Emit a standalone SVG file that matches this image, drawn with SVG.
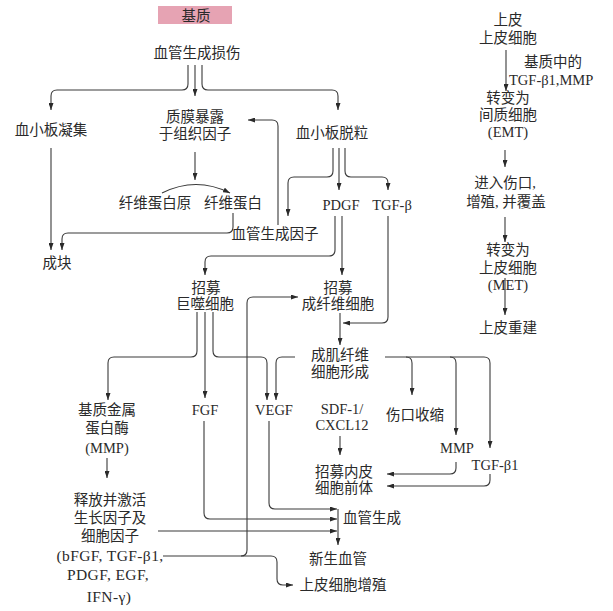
<svg xmlns="http://www.w3.org/2000/svg" width="613" height="611" viewBox="0 0 613 611">
<defs>
<style>
text{font-family:"Liberation Serif","Noto Sans CJK SC",serif;font-size:14.5px;fill:#2a2a2a;text-anchor:middle}
text.w{font-size:15.5px;letter-spacing:0.4px}
.c path{fill:none;stroke:#3a3a3a;stroke-width:1.1}
.c path.a{marker-end:url(#ah)}
</style>
<marker id="ah" viewBox="0 0 7 5" refX="7" refY="2.5" markerWidth="7" markerHeight="5" orient="auto" markerUnits="userSpaceOnUse"><path d="M0,0 L7,2.5 L0,5 z" fill="#2a2a2a"/></marker>
</defs>
<rect width="613" height="611" fill="#ffffff"/>
<g id="n-jizhi"><rect x="158" y="6" width="74" height="18" fill="#e6a3b3"/><text x="196" y="21">基质</text></g>
<g id="n-injury"><text x="197" y="58">血管生成损伤</text></g>
<g id="n-agg"><text x="51" y="135">血小板凝集</text></g>
<g id="n-tf"><text x="195" y="122">质膜暴露</text><text x="195" y="139">于组织因子</text></g>
<g id="n-degran"><text x="332" y="138">血小板脱粒</text></g>
<g id="n-fbg"><text x="155" y="208">纤维蛋白原</text></g>
<g id="n-fb"><text x="233" y="208">纤维蛋白</text></g>
<g id="n-angf"><text x="275" y="239">血管生成因子</text></g>
<g id="n-pdgf"><text x="341" y="210">PDGF</text></g>
<g id="n-tgfb"><text x="392" y="210">TGF-β</text></g>
<g id="n-clot"><text x="57" y="268">成块</text></g>
<g id="n-mac"><text x="206" y="293">招募</text><text x="205" y="309">巨噬细胞</text></g>
<g id="n-fibro"><text x="338" y="293">招募</text><text x="338" y="309">成纤维细胞</text></g>
<g id="n-myo"><text x="340" y="360">成肌纤维</text><text x="340" y="377">细胞形成</text></g>
<g id="n-mmp1"><text x="107" y="415">基质金属</text><text x="107" y="433">蛋白酶</text><text x="107" y="453">(MMP)</text></g>
<g id="n-fgf"><text x="205" y="415">FGF</text></g>
<g id="n-vegf"><text x="274" y="415">VEGF</text></g>
<g id="n-sdf"><text x="342" y="414">SDF-1/</text><text x="342" y="430">CXCL12</text></g>
<g id="n-contract"><text x="415" y="420">伤口收缩</text></g>
<g id="n-mmp2"><text x="457" y="453">MMP</text></g>
<g id="n-tgfb1"><text x="495" y="470">TGF-β1</text></g>
<g id="n-epc"><text x="344" y="477">招募内皮</text><text x="344" y="493">细胞前体</text></g>
<g id="n-release"><text x="110" y="505">释放并激活</text><text x="110" y="523">生长因子及</text><text x="110" y="541">细胞因子</text><text class="w" x="110" y="561">(bFGF, TGF-β1,</text><text class="w" x="108" y="580">PDGF, EGF,</text><text class="w" x="109" y="602">IFN-γ)</text></g>
<g id="n-angio"><text x="372" y="523">血管生成</text></g>
<g id="n-newves"><text x="338" y="564">新生血管</text></g>
<g id="n-epiprol"><text x="343" y="590">上皮细胞增殖</text></g>
<g id="n-epi"><text x="508" y="25">上皮</text><text x="508" y="43">上皮细胞</text></g>
<g id="n-lbl"><text x="553" y="67">基质中的</text><text x="509" y="85" style="text-anchor:start">TGF-β1,MMP</text></g>
<g id="n-emt"><text x="508" y="103">转变为</text><text x="508" y="120">间质细胞</text><text x="508" y="137">(EMT)</text></g>
<g id="n-enter"><text x="505" y="188">进入伤口,</text><text x="506" y="207">增殖, 并覆盖</text></g>
<g id="n-met"><text x="508" y="255">转变为</text><text x="508" y="273">上皮细胞</text><text x="508" y="290">(MET)</text></g>
<g id="n-rebuild"><text x="508" y="333">上皮重建</text></g>
<g id="connectors" class="c">
<path class="a" d="M195,65 V96"/>
<path class="a" d="M188,65 V84 Q188,90 182,90 H57 Q51,90 51,96 V110"/>
<path class="a" d="M202,65 V84 Q202,90 208,90 H332 Q338,90 338,96 V110"/>
<path class="a" d="M195,152 V180"/>
<path class="a" d="M162,193 Q196,176 230,193"/>
<path class="a" d="M233,213 V227 Q233,233 227,233 H68 Q62,233 62,239 V250"/>
<path class="a" d="M51,148 V250"/>
<path class="a" d="M278,225 V126 Q278,120 272,120 H248"/>
<path class="a" d="M333,148 V171 Q333,177 327,177 H294 Q288,177 288,183 V216"/>
<path class="a" d="M339,148 V190"/>
<path class="a" d="M345,148 V171 Q345,177 351,177 H382 Q388,177 388,183 V190"/>
<path class="a" d="M335,216 V250 Q335,256 329,256 H211 Q205,256 205,262 V275"/>
<path class="a" d="M342,216 V275"/>
<path class="a" d="M388,216 V317 Q388,323 382,323 H343"/>
<path class="a" d="M340,313 V345"/>
<path class="a" d="M197,312 V351 Q197,357 191,357 H114 Q108,357 108,363 V400"/>
<path class="a" d="M205,312 V398"/>
<path class="a" d="M213,312 V351 Q213,357 219,357 H261 Q267,357 267,363 V400"/>
<path class="a" d="M295,357 H282 Q276,357 276,363 V400"/>
<path class="a" d="M385,357 H484 Q490,357 490,363 V448"/>
<path class="a" d="M406,357 Q412,357 412,363 V395"/>
<path class="a" d="M450,357 Q456,357 456,363 V435"/>
<path class="a" d="M340,436 V455"/>
<path class="a" d="M456,462 V468 Q456,474 450,474 H387"/>
<path class="a" d="M490,474 V480 Q490,486 484,486 H387"/>
<path class="a" d="M107,458 V478"/>
<path class="a" d="M269,421 V503 Q269,509 275,509 H337"/>
<path class="a" d="M204,421 V513 Q204,519 210,519 H337"/>
<path class="a" d="M158,531 H337"/>
<path class="a" d="M338,509 V545"/>
<path class="a" d="M163,556 H271 Q277,556 277,562 V579 Q277,585 283,585 H293"/>
<path class="a" d="M241,556 Q247,556 247,550 V303 Q247,297 253,297 H298"/>
<path class="a" d="M506,50 V91"/>
<path class="a" d="M505,150 V167"/>
<path class="a" d="M505,217 V242"/>
<path class="a" d="M505,278 V315"/>
</g>
</svg>
